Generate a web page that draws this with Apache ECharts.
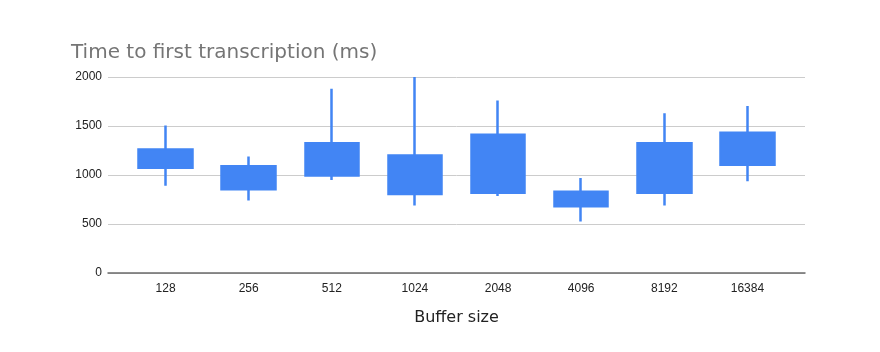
<!DOCTYPE html>
<html>
<head>
<meta charset="utf-8">
<script src="https://cdn.jsdelivr.net/npm/echarts@6/dist/echarts.min.js"></script>
<style>
  html, body { margin: 0; padding: 0; background: #fff; }
  #chart { width: 880px; height: 352px; }
</style>
</head>
<body>
<div id="chart"></div>
<script>
// buffer sizes on the x axis
var bufferSizes = ['128', '256', '512', '1024', '2048', '4096', '8192', '16384'];
// box bottom / box top / whisker low / whisker high (ms)
var boxLow = [1075, 855, 995, 805, 820, 680, 820, 1105];
var boxHigh = [1260, 1090, 1325, 1200, 1410, 830, 1325, 1430];
var lowest = [890, 740, 950, 690, 785, 525, 690, 935];
var highest = [1505, 1190, 1880, 2000, 1760, 970, 1630, 1705];
var yTicks = { min: 0, max: 2000, interval: 500 };

var blue = '#4285F4';
var candles = bufferSizes.map(function (b, i) {
  return [boxLow[i], boxHigh[i], lowest[i], highest[i]];
});

var chart = echarts.init(document.getElementById('chart'));
chart.setOption({
  backgroundColor: '#fff',
  animation: false,
  title: {
    text: 'Time to first transcription (ms)',
    left: 66,
    top: 38,
    textStyle: { fontFamily: "'DejaVu Sans', Verdana, sans-serif", fontSize: 20, fontWeight: 'normal', color: '#757575' }
  },
  grid: [
    { left: 108, right: 75, top: 77, bottom: 79 },
    { left: 124, right: 91, top: 77, bottom: 79 }
  ],
  xAxis: [
    {
      gridIndex: 0, type: 'value', min: 0, max: 1,
      axisLine: { show: true, lineStyle: { color: '#6b6b6b', width: 1.5 } },
      axisTick: { show: false }, axisLabel: { show: false }, splitLine: { show: false }
    },
    {
      gridIndex: 1, type: 'category', data: bufferSizes,
      axisLine: { show: false }, axisTick: { show: false },
      axisLabel: { margin: 10, fontFamily: "'Liberation Sans', Arial, sans-serif", fontSize: 12, color: '#222' },
      name: 'Buffer size', nameLocation: 'middle', nameGap: 37,
      nameTextStyle: { fontFamily: "'DejaVu Sans', Verdana, sans-serif", fontSize: 16, color: '#222' }
    }
  ],
  yAxis: [
    {
      gridIndex: 0, type: 'value', min: yTicks.min, max: yTicks.max, interval: yTicks.interval,
      axisLine: { show: false }, axisTick: { show: false },
      axisLabel: {
        margin: 6, fontFamily: "'Liberation Sans', Arial, sans-serif", fontSize: 12, color: '#222',
        formatter: function (v) { return String(v); }
      },
      splitLine: { lineStyle: { color: '#cccccc', width: 1 } }
    },
    {
      gridIndex: 1, type: 'value', min: yTicks.min, max: yTicks.max,
      show: false, splitLine: { show: false }
    }
  ],
  series: [{
    type: 'candlestick',
    xAxisIndex: 1,
    yAxisIndex: 1,
    barWidth: 54,
    data: candles,
    itemStyle: {
      color: blue, color0: blue,
      borderColor: blue, borderColor0: blue,
      borderWidth: 2.5
    }
  }]
});
</script>
</body>
</html>
